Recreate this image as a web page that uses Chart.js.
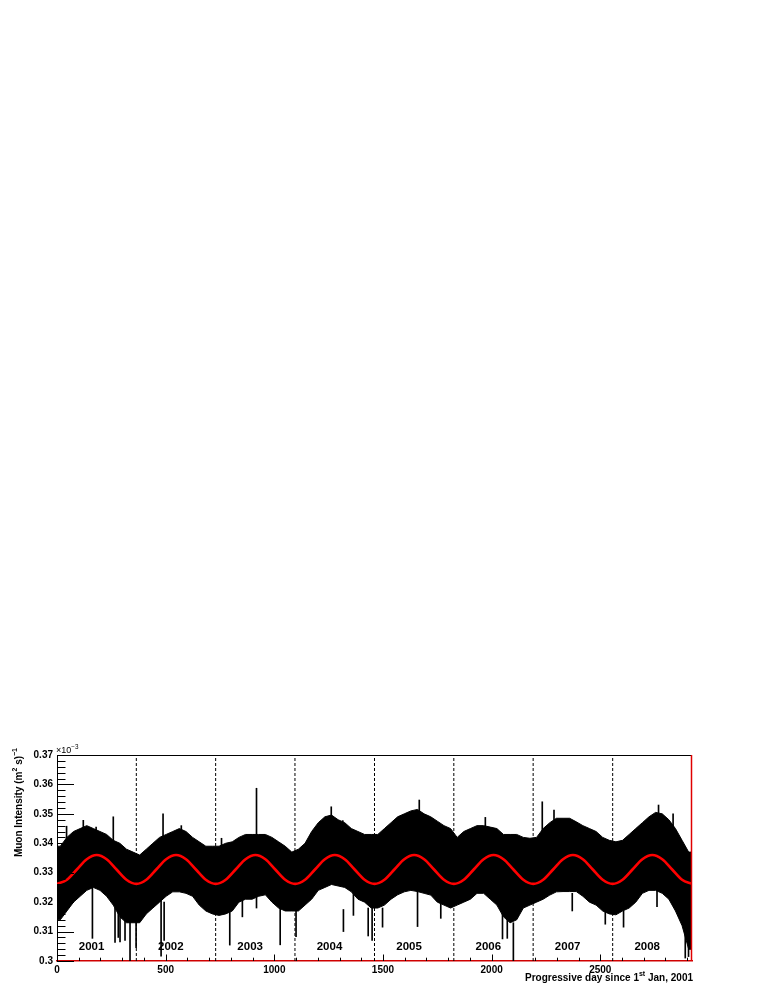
<!DOCTYPE html>
<html><head><meta charset="utf-8">
<script src="https://cdn.jsdelivr.net/npm/chart.js@4/dist/chart.umd.min.js"></script>
<style>html,body{margin:0;padding:0;background:#fff;}canvas{display:block}</style>
</head><body>
<canvas id="c" width="763" height="987"></canvas>
<script>
// ---------------- data ----------------
const TOTAL_DAYS = 2922;               // 1 Jan 2001 .. 31 Dec 2008
// monthly envelope of the daily measurements (x 10^-3 (m^2 s)^-1)
const bandLow = [
  0.314,0.317,0.320,0.322,0.324,0.325,0.324,0.322,0.319,0.315,0.313,0.313,
  0.313,0.316,0.318,0.320,0.322,0.3235,0.3235,0.323,0.322,0.319,0.317,0.316,
  0.3155,0.316,0.317,0.320,0.321,0.321,0.322,0.3225,0.320,0.318,0.317,0.317,
  0.317,0.319,0.321,0.324,0.325,0.326,0.3255,0.325,0.3235,0.321,0.320,0.318,
  0.318,0.319,0.321,0.3225,0.3235,0.324,0.3236,0.323,0.3224,0.320,0.319,0.318,
  0.319,0.320,0.321,0.323,0.323,0.321,0.319,0.315,0.313,0.314,0.318,0.319,
  0.320,0.321,0.3224,0.3235,0.3236,0.3236,0.3236,0.322,0.320,0.319,0.317,0.316,
  0.3157,0.317,0.318,0.320,0.323,0.324,0.324,0.323,0.321,0.317,0.312,0.304
];
const bandHigh = [
  0.339,0.342,0.344,0.345,0.346,0.345,0.344,0.343,0.341,0.340,0.338,0.337,
  0.336,0.338,0.340,0.342,0.343,0.344,0.345,0.344,0.342,0.3405,0.339,0.339,
  0.339,0.340,0.3405,0.342,0.343,0.343,0.343,0.343,0.342,0.3405,0.339,0.337,
  0.338,0.340,0.344,0.347,0.349,0.3496,0.348,0.347,0.345,0.344,0.343,0.343,
  0.343,0.345,0.347,0.349,0.350,0.351,0.3515,0.350,0.349,0.3475,0.346,0.345,
  0.342,0.344,0.345,0.346,0.346,0.3455,0.345,0.343,0.343,0.343,0.342,0.3417,
  0.342,0.345,0.347,0.3485,0.3485,0.3485,0.3473,0.346,0.345,0.344,0.342,0.341,
  0.3405,0.341,0.343,0.345,0.347,0.349,0.3505,0.350,0.348,0.345,0.341,0.337
];
// isolated daily error bars reaching outside the dense band
const spikeDays = [44,121,163,180,259,267,282,290,313,336,364,479,488,493,572,757,795,853,918,
  1027,1100,1262,1315,1318,1364,1432,1450,1498,1659,1667,1766,1971,2050,2072,2100,2233,2287,2371,
  2523,2607,2761,2768,2835,2891,2906];
const spikeLow = [0.330,0.333,0.3077,0.335,0.330,0.3063,0.308,0.3065,0.307,0.300,0.3045,0.3016,0.330,0.307,0.335,0.330,0.3054,0.315,0.318,
  0.3055,0.3083,0.335,0.335,0.310,0.3155,0.3085,0.307,0.3115,0.3117,0.340,0.3145,0.335,0.3075,0.3077,0.300,0.335,0.335,0.317,
  0.3125,0.3115,0.3185,0.340,0.335,0.301,0.3015];
const spikeHigh = [0.3458,0.3478,0.325,0.3455,0.349,0.318,0.318,0.315,0.315,0.316,0.315,0.330,0.350,0.320,0.346,0.3417,0.318,0.322,0.3587,
  0.318,0.318,0.3524,0.3477,0.3175,0.324,0.318,0.318,0.318,0.324,0.3547,0.320,0.3488,0.316,0.315,0.313,0.3541,0.3513,0.323,
  0.317,0.317,0.324,0.353,0.350,0.312,0.312];
// fitted seasonal modulation (red curve), sampled every 1/8 year
const fitDays = [0,45.7,91.3,137.0,182.6,228.3,273.9,319.6,365.3,410.9,456.6,502.2,547.9,593.5,639.2,684.8,
  730.5,776.2,821.8,867.5,913.1,958.8,1004.4,1050.1,1095.8,1141.4,1187.1,1232.7,1278.4,1324.0,1369.7,1415.3,
  1461.0,1506.7,1552.3,1598.0,1643.6,1689.3,1734.9,1780.6,1826.3,1871.9,1917.6,1963.2,2008.9,2054.5,2100.2,2145.8,
  2191.5,2237.2,2282.8,2328.5,2374.1,2419.8,2465.4,2511.1,2556.8,2602.4,2648.1,2693.7,2739.4,2785.0,2830.7,2876.3,2922.0];
const fitValues = [0.3262,0.3276,0.3311,0.3346,0.3360,0.3346,0.3311,0.3276,
  0.3262,0.3276,0.3311,0.3346,0.3360,0.3346,0.3311,0.3276,
  0.3262,0.3276,0.3311,0.3346,0.3360,0.3346,0.3311,0.3276,
  0.3262,0.3276,0.3311,0.3346,0.3360,0.3346,0.3311,0.3276,
  0.3262,0.3276,0.3311,0.3346,0.3360,0.3346,0.3311,0.3276,
  0.3262,0.3276,0.3311,0.3346,0.3360,0.3346,0.3311,0.3276,
  0.3262,0.3276,0.3311,0.3346,0.3360,0.3346,0.3311,0.3276,
  0.3262,0.3276,0.3311,0.3346,0.3360,0.3346,0.3311,0.3276,0.3262];
const yearNames = ['2001','2002','2003','2004','2005','2006','2007','2008'];
const yearStarts = [0,365,730,1095,1461,1826,2191,2557];
const xTickValues = [0,500,1000,1500,2000,2500];
const Y_MIN = 0.30, Y_MAX = 0.37;

// ---------------- build datasets ----------------
const binW = TOTAL_DAYS / bandLow.length;
function envelope(arr) {
  const pts = arr.map((v, i) => ({x: (i + 0.5) * binW, y: v}));
  return [{x: 0, y: arr[0]}, ...pts, {x: TOTAL_DAYS, y: arr[arr.length - 1]}];
}
const spikes = spikeDays.map((d, i) => ({x: d, y: [spikeLow[i], spikeHigh[i]]}));
const fit = fitDays.map((d, i) => ({x: d, y: fitValues[i]}));
const dashed = yearStarts.slice(1).map(d => ({
  type: 'line', data: [{x: d, y: Y_MIN}, {x: d, y: Y_MAX}],
  borderColor: '#000', borderWidth: 1, borderDash: [3, 2], pointRadius: 0, order: 1
}));

const FONT = '"Liberation Sans", Arial, Helvetica, sans-serif';
function drawRich(ctx, segs, x, y, align, size, weight) {
  const f = s => `${weight} ${s}px ${FONT}`;
  let total = 0;
  const w = segs.map(([t, sup]) => { ctx.font = f(sup ? size * 0.7 : size); const m = ctx.measureText(t).width; total += m; return m; });
  let cx = align === 'right' ? x - total : (align === 'center' ? x - total / 2 : x);
  ctx.textAlign = 'left'; ctx.textBaseline = 'alphabetic';
  segs.forEach(([t, sup], i) => {
    ctx.font = f(sup ? size * 0.7 : size);
    ctx.fillText(t, cx, sup ? y - size * 0.42 : y);
    cx += w[i];
  });
}

const framePlugin = {
  id: 'frame',
  afterDatasetsDraw(chart) {
    const {ctx, chartArea: a, scales: {x, y}} = chart;
    ctx.save();
    ctx.fillStyle = '#000';
    ctx.strokeStyle = '#000'; ctx.lineWidth = 1;
    ctx.beginPath(); ctx.moveTo(a.left, a.top + 0.5); ctx.lineTo(a.right, a.top + 0.5); ctx.stroke();
    ctx.strokeStyle = '#e00000'; ctx.lineWidth = 1.5;
    ctx.beginPath(); ctx.moveTo(a.right - 0.5, a.top); ctx.lineTo(a.right - 0.5, a.bottom); ctx.stroke();
    ctx.strokeStyle = '#000'; ctx.lineWidth = 1;
    for (let k = 0; k <= 35; k++) {
      const py = Math.round(y.getPixelForValue(Y_MIN + k * 0.002)) + 0.5;
      const len = k % 5 === 0 ? 17 : 8.5;
      ctx.beginPath(); ctx.moveTo(a.left, py); ctx.lineTo(a.left + len, py); ctx.stroke();
    }
    for (let d = 0; d <= TOTAL_DAYS; d += 100) {
      const px = Math.round(x.getPixelForValue(d)) + 0.5;
      const len = d % 500 === 0 ? 6.5 : 3.3;
      ctx.beginPath(); ctx.moveTo(px, a.bottom); ctx.lineTo(px, a.bottom - len); ctx.stroke();
    }
    ctx.font = `bold 11.5px ${FONT}`; ctx.textAlign = 'left'; ctx.textBaseline = 'alphabetic';
    yearNames.forEach((n, i) => ctx.fillText(n, x.getPixelForValue(yearStarts[i] + 100), a.bottom - 11));
    drawRich(ctx, [['\u00d710', false], ['\u22123', true]], a.left - 1, a.top - 2, 'left', 9, 'normal');
    drawRich(ctx, [['Progressive day since 1', false], ['st', true], [' Jan, 2001', false]], a.right + 1, 980.5, 'right', 10, 'bold');
    ctx.save();
    ctx.translate(21.5, a.top - 7); ctx.rotate(-Math.PI / 2);
    drawRich(ctx, [['Muon Intensity (m', false], ['2', true], [' s)', false], ['\u22121', true]], 0, 0, 'right', 10, 'bold');
    ctx.restore();
    ctx.restore();
  }
};

new Chart(document.getElementById('c'), {
  type: 'bar',
  data: {
    datasets: [
      {type: 'line', data: fit, borderColor: '#ff0000', borderWidth: 2.6, pointRadius: 0,
       cubicInterpolationMode: 'monotone', order: 0},
      ...dashed,
      {type: 'bar', data: spikes, backgroundColor: '#000', barThickness: 1, grouped: false, order: 2},
      {type: 'line', data: envelope(bandHigh), borderColor: '#000', borderWidth: 1, pointRadius: 0, fill: false, order: 3},
      {type: 'line', data: envelope(bandLow), borderColor: '#000', borderWidth: 1, pointRadius: 0,
       fill: '-1', backgroundColor: '#000', order: 3}
    ]
  },
  options: {
    responsive: false, animation: false, events: [],
    layout: {padding: {top: 755, right: 71, left: 0, bottom: 0}},
    plugins: {legend: {display: false}, tooltip: {enabled: false}, filler: {propagate: false}},
    scales: {
      x: {
        type: 'linear', min: 0, max: TOTAL_DAYS, offset: false,
        grid: {display: false, drawTicks: false, offset: false},
        border: {display: true, color: '#d00000', width: 1.5},
        ticks: {padding: 3, color: '#000', maxRotation: 0, autoSkip: false,
                font: {family: FONT, size: 10, weight: 'bold'}, callback: v => String(v)},
        afterBuildTicks(s) { s.ticks = xTickValues.map(v => ({value: v})); },
        afterFit(s) { s.height = 26; }
      },
      y: {
        min: Y_MIN, max: Y_MAX,
        grid: {display: false, drawTicks: false},
        border: {display: true, color: '#000', width: 1},
        ticks: {stepSize: 0.01, padding: 4, color: '#000', font: {family: FONT, size: 10, weight: 'bold'},
                callback: v => String(Math.round(v * 100) / 100)},
        afterFit(s) { s.width = 57; }
      }
    }
  },
  plugins: [framePlugin]
});
</script>
</body></html>
